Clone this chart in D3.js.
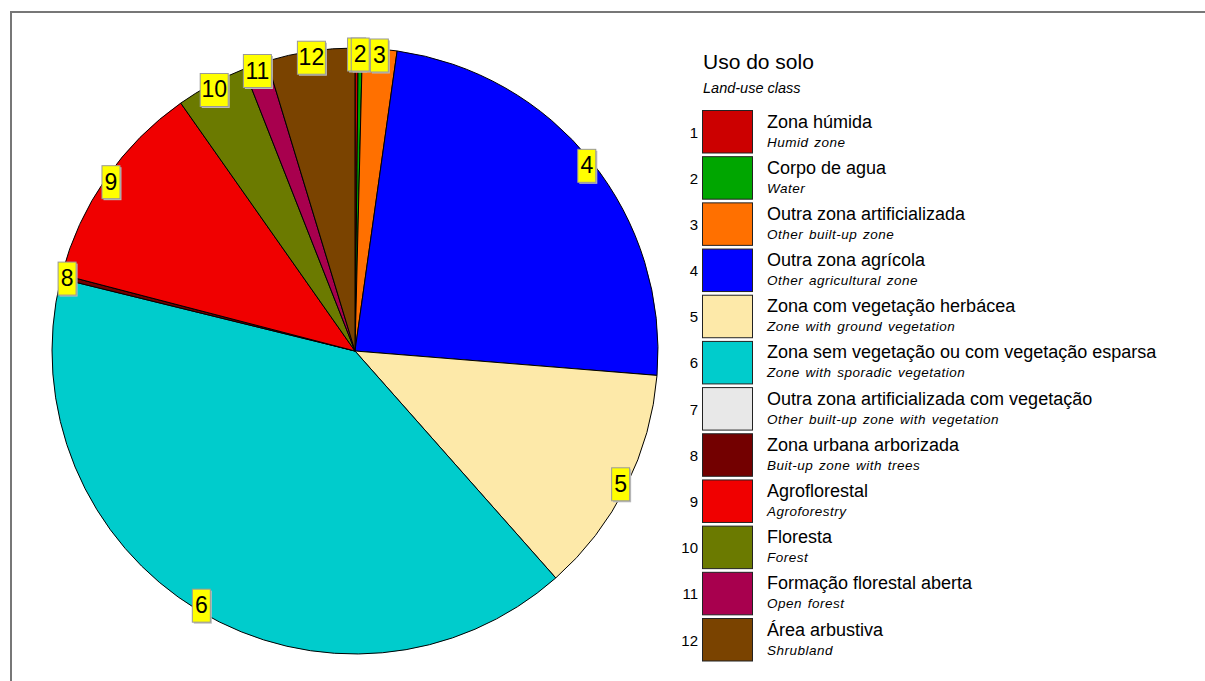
<!DOCTYPE html>
<html>
<head>
<meta charset="utf-8">
<script src="https://cdn.jsdelivr.net/npm/d3@7"></script>
<style>
  body { margin: 0; background: #fff; }
  svg { display: block; font-family: "Liberation Sans", Arial, sans-serif; }
</style>
</head>
<body>
<div id="chart"></div>
<script>
// chart data
var classIds = ["1", "2", "3", "4", "5", "6", "7", "8", "9", "10", "11", "12"];
var namesPt = ["Zona húmida", "Corpo de agua", "Outra zona artificializada", "Outra zona agrícola",
  "Zona com vegetação herbácea", "Zona sem vegetação ou com vegetação esparsa",
  "Outra zona artificializada com vegetação", "Zona urbana arborizada", "Agroflorestal",
  "Floresta", "Formação florestal aberta", "Área arbustiva"];
var namesEn = ["Humid zone", "Water", "Other built-up zone", "Other agricultural zone",
  "Zone with ground vegetation", "Zone with sporadic vegetation",
  "Other built-up zone with vegetation", "Buit-up zone with trees", "Agroforestry",
  "Forest", "Open forest", "Shrubland"];
// share of area (%)
var shares = [0.17, 0.22, 1.83, 24.06, 12.19, 40.36, 0, 0.22, 11.19, 3.78, 1.28, 4.69];
var colors = ["#cc0000", "#00a600", "#ff7000", "#0000ff", "#fde9a9", "#00cccc",
  "#e8e8e8", "#730000", "#f00000", "#6b7a00", "#a8004e", "#7a4300"];

var svgWidth = 1205;
var svgHeight = 681;

var svg = d3.select("#chart")
  .append("svg")
  .attr("width", svgWidth)
  .attr("height", svgHeight);

// frame (runs off the right and bottom edges)
svg.append("rect")
  .attr("x", 11)
  .attr("y", 12)
  .attr("width", 1300)
  .attr("height", 800)
  .attr("fill", "none")
  .attr("stroke", "#777")
  .attr("stroke-width", 2);

var data = classIds.map(function(id, i) {
  return { id: id, value: shares[i], color: colors[i], pt: namesPt[i], en: namesEn[i] };
});

var cx = 355, cy = 351, radius = 303;

var pie = d3.pie()
  .sort(null)
  .value(d => d.value);

var arc = d3.arc()
  .innerRadius(0)
  .outerRadius(radius);

var labelArc = d3.arc()
  .innerRadius(radius - 6)
  .outerRadius(radius - 6);

var pieGroup = svg.append("g")
  .attr("transform", `translate(${cx}, ${cy})`);

var arcs = pie(data);

pieGroup.selectAll("path")
  .data(arcs.filter(d => d.data.value > 0))
  .enter()
  .append("path")
  .attr("d", arc)
  .attr("fill", d => d.data.color)
  .attr("stroke", "#000")
  .attr("stroke-width", 1)
  .attr("stroke-linejoin", "round");

// yellow number tags on the rim
var tags = pieGroup.selectAll("g.tag")
  .data(arcs.filter(d => d.data.value > 0))
  .enter()
  .append("g")
  .attr("class", "tag")
  .attr("transform", function(d) {
    var c = labelArc.centroid(d);
    return `translate(${c[0]}, ${c[1]})`;
  });

tags.each(function(d) {
  var g = d3.select(this);
  var w = d.data.id.length > 1 ? 28 : 18;
  g.append("rect")
    .attr("x", -w / 2 + 1.5)
    .attr("y", -16 + 1.5)
    .attr("width", w)
    .attr("height", 33)
    .attr("fill", "#bbb");
  g.append("rect")
    .attr("x", -w / 2)
    .attr("y", -16)
    .attr("width", w)
    .attr("height", 33)
    .attr("fill", "#ffff00")
    .attr("stroke", "#999")
    .attr("stroke-width", 1);
  g.append("text")
    .attr("x", 0)
    .attr("y", 8)
    .attr("text-anchor", "middle")
    .attr("font-size", "23px")
    .attr("fill", "#000")
    .text(d.data.id);
});

// legend
var legend = svg.append("g");

legend.append("text")
  .attr("x", 703)
  .attr("y", 69)
  .attr("font-size", "21px")
  .attr("fill", "#000")
  .text("Uso do solo");

legend.append("text")
  .attr("x", 703)
  .attr("y", 93)
  .attr("font-size", "14.5px")
  .attr("font-style", "italic")
  .attr("fill", "#000")
  .text("Land-use class");

var rowY = d3.scaleLinear()
  .domain([0, 11])
  .range([110.5, 618.5]);

var rows = legend.selectAll("g.row")
  .data(data)
  .enter()
  .append("g")
  .attr("class", "row")
  .attr("transform", (d, i) => `translate(0, ${rowY(i)})`);

rows.append("rect")
  .attr("x", 702.5)
  .attr("y", 0)
  .attr("width", 50)
  .attr("height", 42.5)
  .attr("fill", d => d.color)
  .attr("stroke", "#222")
  .attr("stroke-width", 1);

rows.append("text")
  .attr("x", 698)
  .attr("y", 27)
  .attr("text-anchor", "end")
  .attr("font-size", "15px")
  .attr("fill", "#000")
  .text(d => d.id);

rows.append("text")
  .attr("x", 767)
  .attr("y", 17)
  .attr("font-size", "18px")
  .attr("fill", "#000")
  .text(d => d.pt);

rows.append("text")
  .attr("x", 767)
  .attr("y", 36)
  .attr("font-size", "13.5px")
  .attr("font-style", "italic")
  .attr("letter-spacing", "0.5px")
  .attr("word-spacing", "1.5px")
  .attr("fill", "#000")
  .text(d => d.en);
</script>
</body>
</html>
